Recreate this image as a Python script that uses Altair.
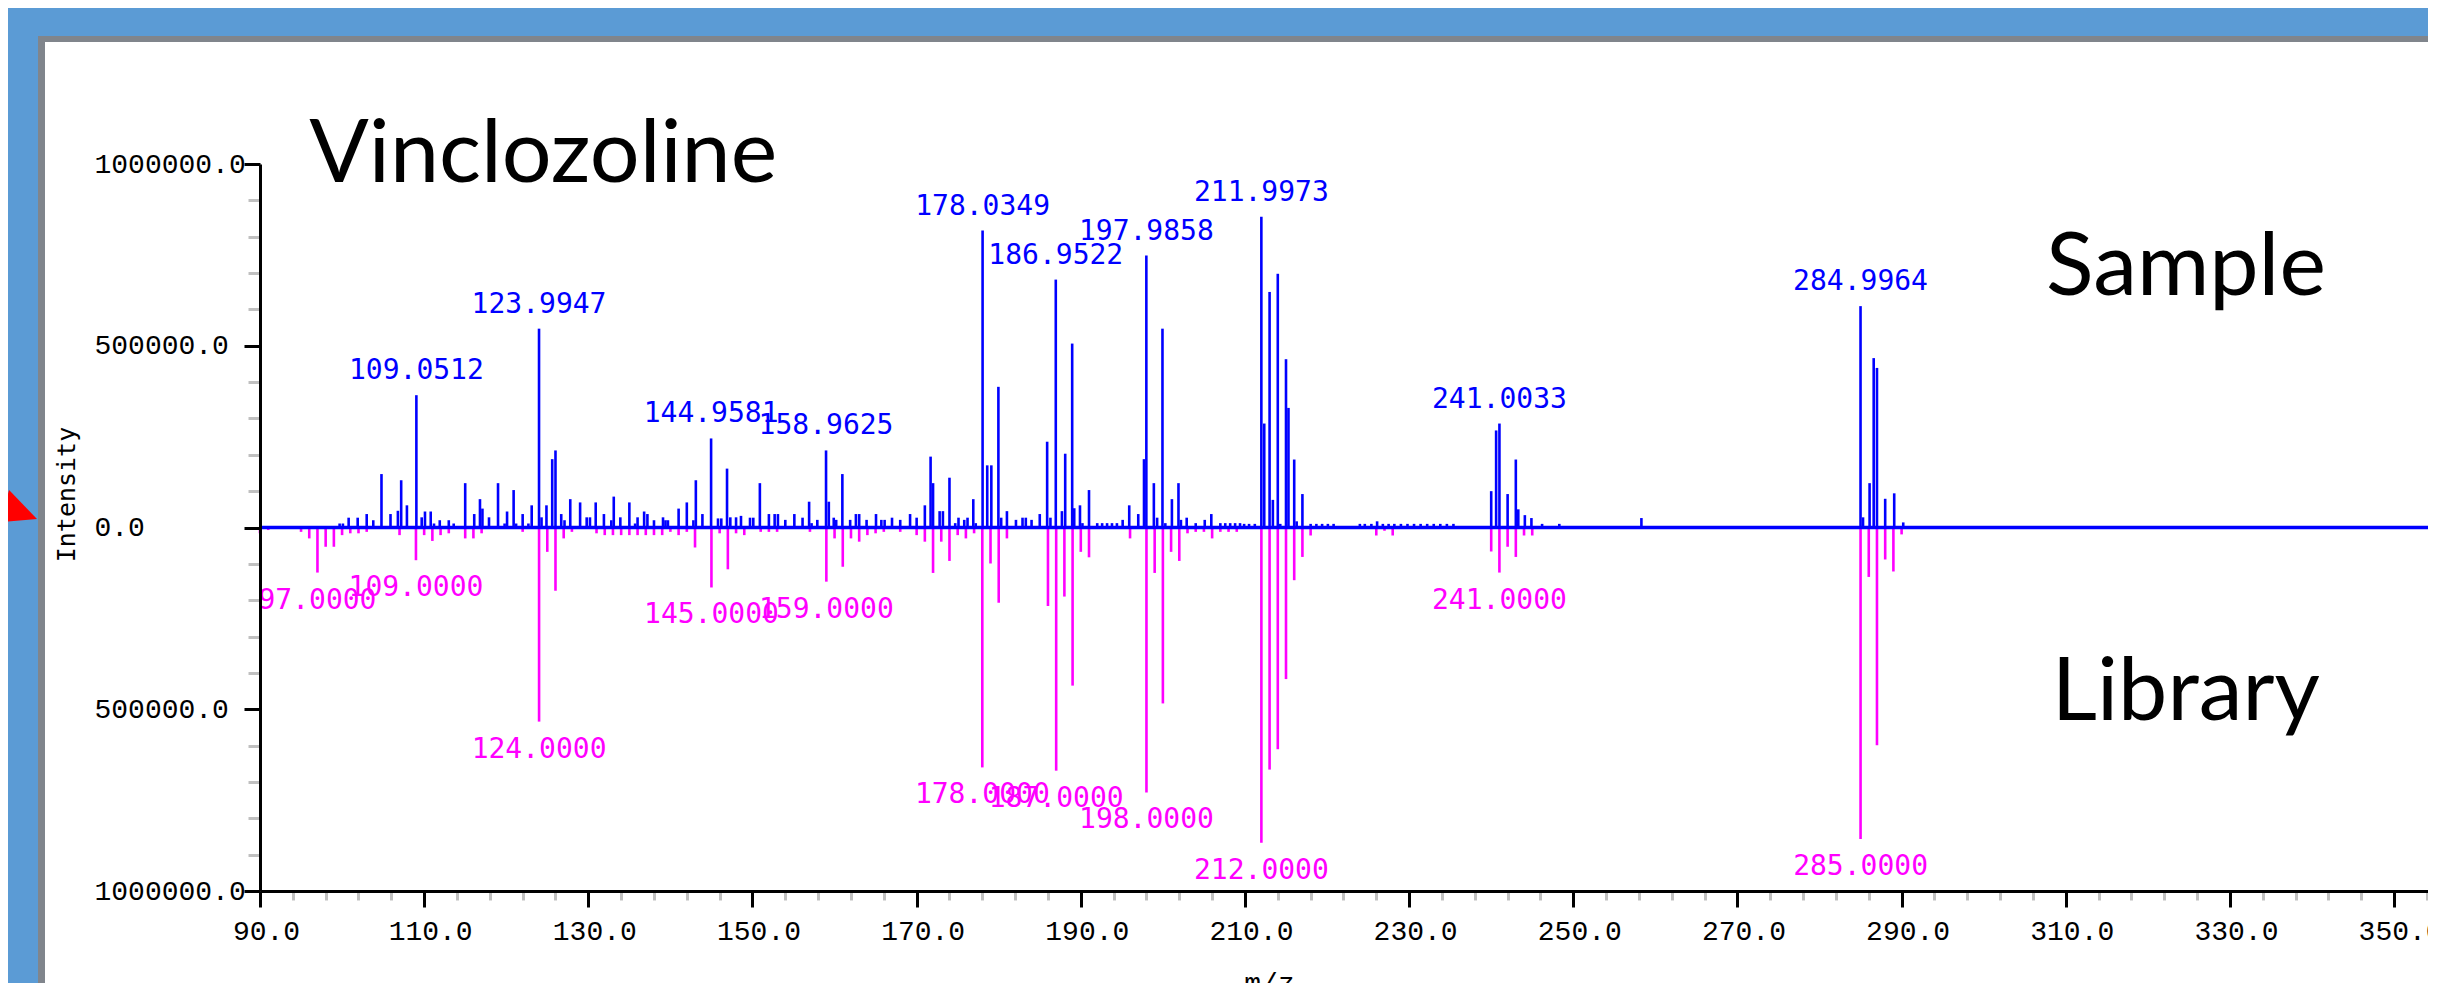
import altair as alt
import pandas as pd

# ---------------- data ----------------
# Sample (measured) spectrum, drawn upwards
sample_mz = [
    99.7, 100.1, 100.8, 101.9, 103.0, 103.8, 104.8, 105.9, 106.8, 107.2, 107.9,
    109.0512, 109.7, 110.1, 110.8, 111.2, 111.9, 113.0, 113.6, 115.0, 116.1, 116.8,
    117.1, 117.9, 119.0, 119.8, 120.1, 120.9, 121.2, 122.0, 122.7, 123.1, 123.9947,
    124.3, 124.9, 125.6, 126.0, 126.7, 127.1, 127.8, 129.0, 129.8, 130.2, 130.9,
    131.9, 132.8, 133.1, 133.9, 135.0, 135.7, 136.0, 136.8, 137.2, 138.0, 139.1,
    139.4, 139.7, 141.0, 142.0, 142.8, 143.1, 143.9, 144.9581, 145.8, 146.2, 146.9,
    147.3, 148.0, 148.6, 149.7, 150.1, 150.9, 152.0, 152.7, 153.1, 154.0, 155.1,
    156.1, 156.9, 157.2, 157.9, 158.9625, 159.3, 159.9, 160.2, 160.95, 161.9, 162.6,
    163.0, 163.9, 165.05, 165.7, 166.1, 167.0, 168.0, 169.2, 170.0, 171.0, 171.7,
    172.0, 172.8, 173.2, 174.0, 174.7, 175.1, 175.8, 176.2, 176.9, 177.2, 178.0349,
    178.6, 179.1, 179.96, 180.3, 181.0, 182.1, 182.9, 183.3, 184.0, 185.0, 185.9,
    186.3, 186.9522, 187.7, 188.1, 188.95, 189.2, 189.9, 190.2, 191.0, 192.0, 192.6,
    193.2, 193.8, 194.4, 195.1, 195.9, 197.0, 197.7, 197.9858, 198.9, 199.3, 199.95,
    200.3, 201.1, 201.9, 202.2, 202.9, 204.0, 205.1, 205.9, 207.0, 207.6, 208.2,
    208.8, 209.4, 209.9, 210.5, 211.2, 211.9973, 212.35, 213.0, 213.4, 214.0, 214.3,
    215.0, 215.3, 216.0, 216.3, 217.0, 218.0, 218.7, 219.4, 220.1, 220.8, 224.0,
    224.6, 225.4, 226.1, 226.8, 227.5, 228.2, 229.0, 229.8, 230.6, 231.4, 232.2,
    233.0, 233.8, 234.6, 235.4, 240.0, 240.6, 241.0033, 242.0, 243.0, 243.3, 244.1,
    244.9, 246.2, 248.3, 258.3, 284.9964, 285.3, 286.1, 286.6, 287.0, 288.0, 289.1,
    290.2,
]
sample_int = [
    11000, 11000, 27000, 27000, 37000, 20000, 147000, 37000, 46000, 130000, 61000,
    364000, 28000, 44000, 44000, 11000, 20000, 20000, 11000, 122000, 37000, 78000,
    52000, 28000, 122000, 11000, 44000, 103000, 11000, 37000, 11000, 61000, 547000,
    28000, 61000, 188000, 212000, 37000, 20000, 78000, 69000, 28000, 28000, 69000,
    37000, 20000, 85000, 28000, 69000, 11000, 28000, 44000, 37000, 20000, 28000,
    20000, 20000, 52000, 69000, 20000, 130000, 37000, 245000, 25000, 25000, 162000,
    28000, 28000, 32000, 27000, 27000, 122000, 37000, 37000, 37000, 21000, 37000,
    27000, 71000, 12000, 21000, 212000, 71000, 27000, 21000, 147000, 21000, 37000,
    37000, 21000, 37000, 21000, 21000, 27000, 21000, 37000, 27000, 61000, 195000,
    122000, 45000, 45000, 137000, 12000, 27000, 21000, 27000, 78000, 12000, 817000,
    171000, 171000, 387000, 27000, 45000, 21000, 27000, 27000, 21000, 37000, 236000,
    27000, 682000, 45000, 203000, 506000, 53000, 61000, 12000, 103000, 12000, 12000,
    12000, 12000, 12000, 21000, 61000, 37000, 188000, 748000, 122000, 27000, 547000,
    12000, 78000, 122000, 21000, 27000, 12000, 21000, 37000, 12000, 12000, 12000,
    12000, 12000, 10000, 10000, 10000, 855000, 286000, 648000, 76000, 698000, 10000,
    463000, 329000, 187000, 17000, 92000, 10000, 10000, 10000, 10000, 10000, 10000,
    10000, 10000, 17000, 10000, 10000, 10000, 10000, 10000, 10000, 10000, 10000,
    10000, 10000, 10000, 10000, 100000, 267000, 286000, 92000, 187000, 50000, 34000,
    26000, 10000, 10000, 26000, 609000, 28000, 122000, 466000, 439000, 79000, 94000,
    14000,
]

# Library spectrum, drawn downwards
library_mz = [
    90, 91, 95, 96, 97, 98, 99, 100, 101, 102, 103, 107, 109, 110, 111, 112, 113,
    115, 116, 117, 122, 124, 125, 126, 127, 128, 131, 132, 133, 134, 135, 136, 137,
    138, 139, 140, 141, 142, 143, 145, 146, 147, 148, 149, 151, 152, 153, 157, 159,
    160, 161, 162, 163, 164, 165, 166, 168, 170, 171, 172, 173, 174, 175, 176, 177,
    178, 179, 180, 181, 186, 187, 188, 189, 190, 191, 196, 198, 199, 200, 201, 202,
    203, 204, 205, 206, 207, 208, 209, 212, 213, 214, 215, 216, 217, 218, 226, 227,
    228, 240, 241, 242, 243, 244, 245, 285, 286, 287, 288, 289, 290,
]
library_int = [
    16000, 7000, 12000, 30000, 124000, 53000, 53000, 21000, 16000, 16000, 12000,
    21000, 90000, 21000, 37000, 21000, 16000, 30000, 30000, 16000, 12000, 534000,
    67000, 174000, 30000, 12000, 16000, 21000, 21000, 21000, 21000, 21000, 21000,
    21000, 21000, 12000, 21000, 12000, 55000, 165000, 16000, 115000, 16000, 21000,
    12000, 12000, 12000, 12000, 149000, 30000, 108000, 30000, 39000, 21000, 16000,
    12000, 12000, 21000, 39000, 125000, 39000, 92000, 21000, 30000, 16000, 660000,
    99000, 207000, 30000, 216000, 669000, 190000, 435000, 67000, 82000, 30000,
    729000, 125000, 484000, 67000, 92000, 16000, 12000, 12000, 30000, 12000, 12000,
    12000, 867000, 666000, 610000, 417000, 145000, 81000, 22000, 22000, 9000, 22000,
    66000, 124000, 53000, 81000, 22000, 22000, 857000, 136000, 599000, 88000,
    121000, 19000,
]

# Peaks that carry an m/z label
sample_label_mz = [109.0512, 123.9947, 144.9581, 158.9625, 178.0349, 186.9522,
                   197.9858, 211.9973, 241.0033, 284.9964]
library_label_mz = [97, 109, 124, 145, 159, 178, 187, 198, 212, 241, 285]

# Axis tick values
y_ticks = list(range(-1000000, 1000001, 100000))
x_ticks = list(range(90, 355, 4))

# ---------------- tables built from the arrays ----------------
sample_df = pd.DataFrame({"mz": sample_mz, "intensity": sample_int})
library_df = pd.DataFrame({"mz": library_mz, "intensity": [-v for v in library_int]})

s_lookup = dict(zip(sample_mz, sample_int))
l_lookup = dict(zip(library_mz, library_int))
sample_lab_df = pd.DataFrame({
    "mz": sample_label_mz,
    "intensity": [s_lookup[m] for m in sample_label_mz],
    "label": [f"{m:.4f}" for m in sample_label_mz],
})
library_lab_df = pd.DataFrame({
    "mz": library_label_mz,
    "intensity": [-l_lookup[m] for m in library_label_mz],
    "label": [f"{m:.4f}" for m in library_label_mz],
})
one = pd.DataFrame({"k": [0]})

# ---------------- layout ----------------
W = 2168
H = 727
PX_PER_UNIT = 8.208
x_max = 90 + W / PX_PER_UNIT

BLUE = "#0000ff"
MAGENTA = "#ff00ff"
MONO = "DejaVu Sans Mono"
AXMONO = "Liberation Mono"

xscale = alt.Scale(domain=[90, x_max], nice=False, zero=False)
yscale = alt.Scale(domain=[-1000000, 1000000], nice=False, zero=False)

xaxis = alt.Axis(
    values=x_ticks,
    labelExpr="(datum.value - 90) % 20 === 0 ? format(datum.value, '.1f') : ''",
    labelFont=AXMONO, labelFontSize=28, labelColor="black", labelPadding=10,
    labelOffset=6, labelFlush=False, labelOverlap=False,
    tickColor={"condition": {"test": "(datum.value - 90) % 20 === 0", "value": "black"},
               "value": "#c0c0c0"},
    tickSize={"condition": {"test": "(datum.value - 90) % 20 === 0", "value": 16},
              "value": 9},
    tickWidth=3,
    domainColor="black", domainWidth=3, grid=False, zindex=1,
    title="m/z", titleFont=AXMONO, titleFontSize=28, titleFontWeight="normal",
    titleColor="black", titleX=1009, titleY=78, titleBaseline="top", titleAlign="center",
)
yaxis = alt.Axis(
    values=y_ticks,
    labelExpr="datum.value % 500000 === 0 ? format(abs(datum.value), '.1f') : ''",
    labelFont=AXMONO, labelFontSize=28, labelColor="black",
    labelAlign="left", labelBaseline="middle", labelPadding=150,
    labelFlush=False, labelOverlap=False,
    tickColor={"condition": {"test": "datum.value % 500000 === 0", "value": "black"},
               "value": "#c0c0c0"},
    tickSize={"condition": {"test": "datum.value % 500000 === 0", "value": 16},
              "value": 12},
    tickWidth=3,
    domainColor="black", domainWidth=3, grid=False, zindex=1,
    title="Intensity", titleFont=MONO, titleFontSize=25, titleFontWeight="normal",
    titleColor="black", titleAngle=270, titleX=-194, titleY=330,
    titleAlign="center", titleBaseline="middle",
)

X = alt.X("mz:Q", scale=xscale, axis=xaxis)
Y = alt.Y("intensity:Q", scale=yscale, axis=yaxis)

# frame of the screenshot (decoration)
frame_gray = alt.Chart(one).mark_rect(color="#80858c").encode(
    x=alt.value(-222), x2=alt.value(W + 60), y=alt.value(-128), y2=alt.value(H + 140))
frame_white = alt.Chart(one).mark_rect(color="white").encode(
    x=alt.value(-215), x2=alt.value(W + 60), y=alt.value(-122), y2=alt.value(H + 140))
arrow = alt.Chart(one).mark_point(
    shape="M -0.27 -0.91 L 1 0.41 L -0.68 0.55 Z", filled=True, color="#ff0000",
    opacity=1, size=1936, strokeWidth=0,
).encode(x=alt.value(-245), y=alt.value(346))

sample_bars = alt.Chart(sample_df).mark_rule(color=BLUE, strokeWidth=2.6).encode(
    x=X, y=Y, y2=alt.Y2Datum(0))
library_bars = alt.Chart(library_df).mark_rule(color=MAGENTA, strokeWidth=2.6).encode(
    x=X, y=Y, y2=alt.Y2Datum(0))
baseline = alt.Chart(one).mark_rule(color=BLUE, strokeWidth=3.5).encode(
    y=alt.YDatum(0, scale=yscale, axis=yaxis), x=alt.value(0), x2=alt.value(W))

sample_labels = alt.Chart(sample_lab_df).mark_text(
    font=MONO, fontSize=28, color=BLUE, align="center", baseline="alphabetic", dy=-16
).encode(x=X, y=Y, text="label:N")
library_labels = alt.Chart(library_lab_df).mark_text(
    font=MONO, fontSize=28, color=MAGENTA, align="center", baseline="top", dy=14
).encode(x=X, y=Y, text="label:N")


def note(txt, xv, yv):
    return alt.Chart(one).mark_text(
        font="Lato", fontSize=88, color="black", align="left", baseline="alphabetic"
    ).encode(
        x=alt.XDatum(xv, scale=xscale, axis=xaxis),
        y=alt.YDatum(yv, scale=yscale, axis=yaxis),
        text=alt.value(txt),
    )


chart = alt.layer(
    frame_gray, frame_white, arrow,
    sample_bars, library_bars, baseline,
    sample_labels, library_labels,
    note("Vinclozoline", 96.0, 950000),
    note("Sample", 307.6, 640000),
    note("Library", 308.3, -529000),
).properties(
    width=W, height=H,
    padding={"left": 252, "top": 156, "right": 0, "bottom": 92},
    autosize=alt.AutoSizeParams(type="none"),
    background="#5b9bd5",
).configure_view(stroke=None)

chart.save("out.html", embed_options={"renderer": "svg", "actions": False})
